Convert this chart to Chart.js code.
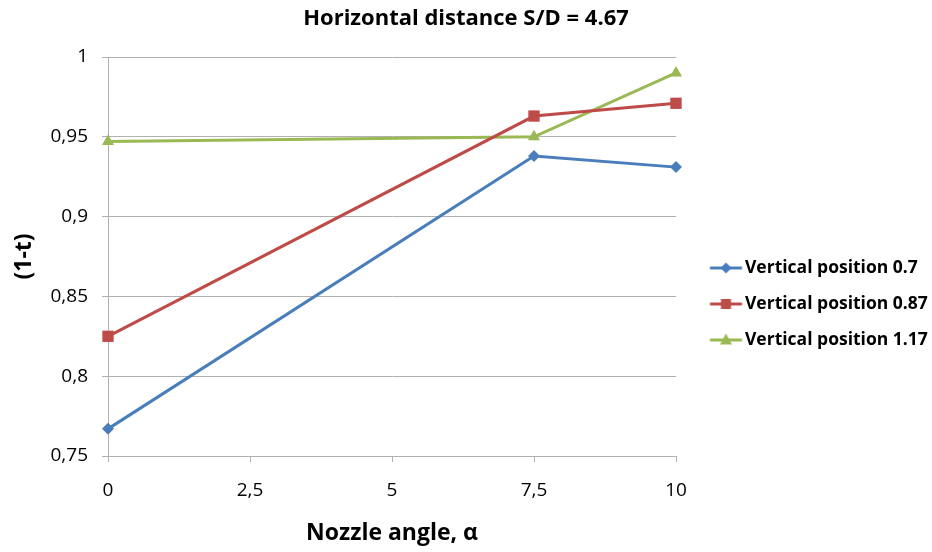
<!DOCTYPE html>
<html>
<head>
<meta charset="utf-8">
<script src="https://cdn.jsdelivr.net/npm/chart.js@4/dist/chart.umd.min.js"></script>
<style>
html,body{margin:0;padding:0;background:#fff;}
#wrap{width:932px;height:552px;position:relative;}
</style>
</head>
<body>
<div id="wrap"><canvas id="c" width="932" height="552"></canvas></div>
<script>
const nozzleAngles = [0, 7.5, 10];
const seriesNames = ['Vertical position 0.7', 'Vertical position 0.87', 'Vertical position 1.17'];
const pos070 = [0.767, 0.938, 0.931];
const pos087 = [0.825, 0.963, 0.971];
const pos117 = [0.947, 0.950, 0.990];
const xTicks = [0, 2.5, 5, 7.5, 10];
const yTicks = [0.75, 0.8, 0.85, 0.9, 0.95, 1];

const colors = ['#4a7ebb', '#be4b48', '#98b954'];
const styles = ['rectRot', 'rect', 'triangle'];
const radii = [6, 8, 7];
const FONT = '"Open Sans", Lato, sans-serif';

function pts(vals){ return nozzleAngles.map((x,i)=>({x:x, y:vals[i]})); }
function fmt(v){ return String(Math.round(v*100)/100).replace('.', ','); }

function legendImg(i){
  const c = document.createElement('canvas');
  c.width = 60; c.height = 18;
  const g = c.getContext('2d');
  g.strokeStyle = colors[i]; g.fillStyle = colors[i]; g.lineWidth = 3;
  g.beginPath(); g.moveTo(24.6, 9); g.lineTo(56.6, 9); g.stroke();
  const cx = 40.6, cy = 9;
  g.beginPath();
  if (styles[i] === 'rectRot') { g.moveTo(cx, cy-5.5); g.lineTo(cx+5.5, cy); g.lineTo(cx, cy+5.5); g.lineTo(cx-5.5, cy); }
  else if (styles[i] === 'rect') { g.rect(cx-5, cy-5, 10, 10); }
  else { g.moveTo(cx, cy-6.5); g.lineTo(cx+6, cy+4.5); g.lineTo(cx-6, cy+4.5); }
  g.closePath(); g.fill();
  return c;
}
const legendImgs = [0,1,2].map(legendImg);

const datasets = [pos070, pos087, pos117].map((vals, i) => ({
  label: seriesNames[i],
  data: pts(vals),
  borderColor: colors[i],
  backgroundColor: colors[i],
  borderWidth: 3,
  pointStyle: styles[i],
  pointRadius: radii[i],
  pointHoverRadius: radii[i],
  pointBorderWidth: 0,
  tension: 0,
  clip: false
}));

const legendWidthPlugin = {
  id: 'legendWidth',
  beforeLayout(chart) {
    const l = chart.legend;
    if (l && !l._patched) {
      const f = l.fit.bind(l);
      l.fit = function(){ f(); this.width = 256; };
      l._patched = true;
    }
  }
};

new Chart(document.getElementById('c'), {
  type: 'line',
  data: { datasets },
  plugins: [legendWidthPlugin],
  options: {
    responsive: false,
    animation: false,
    devicePixelRatio: 1,
    layout: { padding: { left: 0, right: 0, top: 0, bottom: 0 } },
    plugins: {
      tooltip: { enabled: false },
      title: {
        display: true,
        text: 'Horizontal distance S/D = 4.67',
        color: '#000',
        font: { family: FONT, size: 22, weight: 'bold' },
        padding: { top: 6, bottom: 24.6 }
      },
      legend: {
        display: true,
        position: 'right',
        align: 'center',
        title: { display: true, text: ' ', font: { family: FONT, size: 10 }, padding: { top: 44, bottom: 0 } },
        labels: {
          color: '#000',
          font: { family: FONT, size: 17.5, weight: 'bold' },
          usePointStyle: true,
          pointStyleWidth: 41.75,
          padding: 18.5,
          generateLabels(chart) {
            return chart.data.datasets.map((d, i) => ({
              text: d.label,
              pointStyle: legendImgs[i],
              fillStyle: colors[i],
              strokeStyle: colors[i],
              lineWidth: 0,
              fontColor: '#000',
              hidden: false,
              datasetIndex: i
            }));
          }
        }
      }
    },
    scales: {
      x: {
        type: 'linear',
        min: 0, max: 10,
        afterBuildTicks(scale){ scale.ticks = xTicks.map(v => ({value: v})); },
        afterFit(scale){ scale.height = 96; },
        grid: { drawOnChartArea: false, drawTicks: true, tickLength: 6, color: '#b0b0b0' },
        border: { display: true, color: '#b0b0b0' },
        ticks: { color: '#000', font: { family: FONT, size: 19 }, padding: 17, callback: v => fmt(v), maxRotation: 0 },
        title: { display: true, text: 'Nozzle angle, α', color: '#000', font: { family: FONT, size: 23, weight: 'bold' }, padding: { top: 0, bottom: 5 } }
      },
      y: {
        type: 'linear',
        min: 0.75, max: 1,
        afterBuildTicks(scale){ scale.ticks = yTicks.map(v => ({value: v})); },
        afterFit(scale){ scale.width = 108; },
        grid: { drawOnChartArea: true, drawTicks: true, tickLength: 6, color: '#b0b0b0' },
        border: { display: true, color: '#b0b0b0' },
        ticks: { color: '#000', font: { family: FONT, size: 19 }, padding: 14, callback: v => fmt(v) },
        title: { display: true, text: '(1-t)', color: '#000', font: { family: FONT, size: 23, weight: 'bold' }, padding: { top: 11, bottom: 0 } }
      }
    }
  }
});
</script>
</body>
</html>
